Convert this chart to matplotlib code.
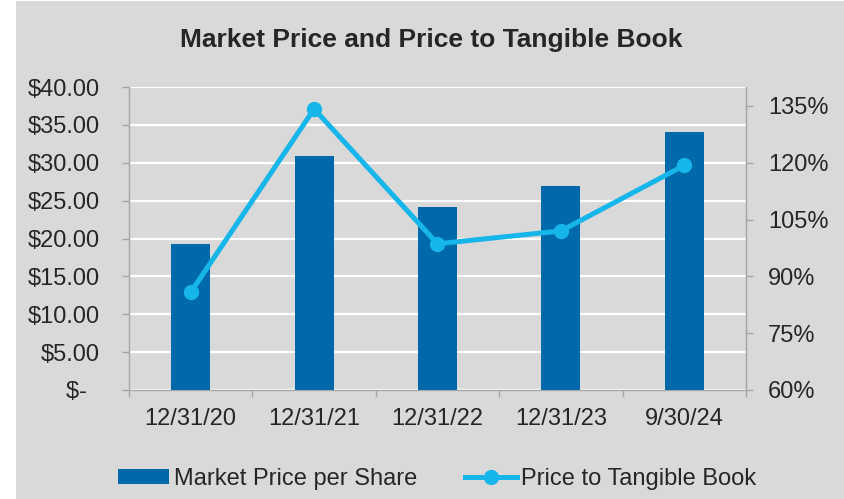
import matplotlib
matplotlib.use("Agg")
import matplotlib.pyplot as plt
from matplotlib.patches import Rectangle
from matplotlib.ticker import FuncFormatter, FixedLocator
import numpy as np

categories = ["12/31/20", "12/31/21", "12/31/22", "12/31/23", "9/30/24"]
market_price = [19.3, 30.9, 24.1, 26.9, 34.1]
price_to_tbv = [85.8, 134.2, 98.6, 102.0, 119.3]

title = "Market Price and Price to Tangible Book"
bar_label = "Market Price per Share"
line_label = "Price to Tangible Book"

BG = "#d9d9d9"
BAR = "#0069aa"
LINE = "#16b5ea"
TXT = "#262626"
SPINE = "#a6a6a6"
FS = 17

plt.rcParams['font.family'] = ['Liberation Sans', 'DejaVu Sans']

fig = plt.figure(figsize=(8.45, 4.99), dpi=100, facecolor="white")
fig.patches.append(Rectangle((16/845, 0), 1 - 16/845, 1 - 1/499, transform=fig.transFigure,
                             facecolor=BG, edgecolor="none", zorder=-10))

ax = fig.add_axes([129/845, 1 - 390/499, (746 - 129)/845, (390 - 87)/499])
ax.set_facecolor(BG)
x = np.arange(len(categories))
ax.bar(x, market_price, width=0.316, color=BAR, zorder=3, label=bar_label)
ax.set_xlim(-0.5, len(categories) - 0.5)
ax.set_ylim(0, 40)
ax.set_yticks(np.arange(0, 41, 5))
ax.yaxis.set_major_formatter(FuncFormatter(lambda v, p: "$-  " if v == 0 else f"${v:.2f}"))
ax.grid(axis="y", color="white", lw=1.6, zorder=1)
ax.set_axisbelow(True)
ax.set_xticks(x)
ax.set_xticklabels(categories)
ax.xaxis.set_minor_locator(FixedLocator(np.arange(-0.5, len(categories), 1.0)))
ax.tick_params(axis="x", which="major", length=0, pad=13, labelsize=FS, labelcolor=TXT)
ax.tick_params(axis="x", which="minor", length=5, color=SPINE, width=1)
ax.tick_params(axis="y", length=5, color=SPINE, width=1, pad=16, labelsize=FS, labelcolor=TXT)
ax.spines["top"].set_visible(False)
for s in ["left", "right", "bottom"]:
    ax.spines[s].set_color(SPINE)
    ax.spines[s].set_linewidth(1)

ax2 = ax.twinx()
ax2.plot(x, price_to_tbv, color=LINE, lw=3.6, marker="o", markersize=10, zorder=5, label=line_label)
ax2.set_ylim(60, 140)
ax2.set_yticks(np.arange(60, 136, 15))
ax2.yaxis.set_major_formatter(FuncFormatter(lambda v, p: f"{v:.0f}%"))
ax2.tick_params(axis="y", length=5, color=SPINE, width=1, pad=11, labelsize=FS, labelcolor=TXT)
for s in ["top", "left", "bottom"]:
    ax2.spines[s].set_visible(False)
ax2.spines["right"].set_color(SPINE)

fig.text(431/845, 1 - 40/499, title, ha="center", va="center", fontsize=19,
         fontweight="bold", color=TXT)

h1, l1 = ax.get_legend_handles_labels()
h2, l2 = ax2.get_legend_handles_labels()
leg = fig.legend(h1 + h2, l1 + l2, loc="center", bbox_to_anchor=(437/845, 1 - 479/499),
                 ncol=2, frameon=False, fontsize=FS, handlelength=2.2, handletextpad=0.2,
                 columnspacing=2.0, handleheight=0.6, labelcolor=TXT)

fig.savefig("out.png", dpi=100, facecolor="white")
